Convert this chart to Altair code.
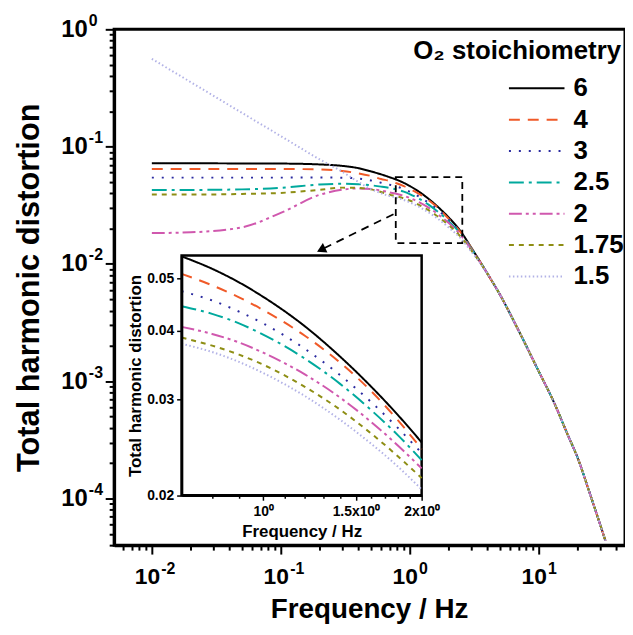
import json
import altair as alt
import pandas as pd

FONT = "Liberation Sans"

# ---------------- data ----------------
series = ["6", "4", "3", "2.5", "2", "1.75", "1.5"]
colors = ["#000000", "#F05A28", "#2B2BA0", "#00A99D", "#D058AE", "#8E8E14", "#B2B2E6"]
dashes = [[1, 0], [11, 8], [2, 8], [15, 5, 3, 5], [13, 4, 3, 4, 3, 4], [5, 5], [1.5, 2.5]]

freq = [0.01, 0.02, 0.05, 0.1, 0.2, 0.3, 0.4, 0.5, 0.6, 0.7, 0.8, 0.9, 1.0, 1.2, 1.4,
        1.6, 1.8, 2.0, 2.5, 3.0, 4.0, 5.0, 7.0, 10.0, 13.0, 17.0, 20.0, 25.0, 33.0]

thd_6 = [0.072, 0.072, 0.0719, 0.0717, 0.0705, 0.0685, 0.0655, 0.0615, 0.058, 0.0548, 0.0520,
         0.0491, 0.0462, 0.0408, 0.0359, 0.0317, 0.0281, 0.0250, 0.0188, 0.0138,
         0.0083, 0.0055, 0.0027, 0.00122, 0.00068, 0.00034, 0.000225, 0.00011, 0.0000436]
thd_4 = [0.0645, 0.0645, 0.0645, 0.0645, 0.0638, 0.062, 0.0592, 0.0562, 0.053, 0.0509, 0.0485,
         0.0461, 0.0437, 0.0392, 0.0350, 0.0311, 0.0275, 0.0243, 0.0185, 0.0137,
         0.0083, 0.0055, 0.0027, 0.00122, 0.00068, 0.00034, 0.000225, 0.00011, 0.0000436]
thd_3 = [0.0544, 0.0544, 0.0544, 0.0544, 0.0545, 0.0543, 0.0535, 0.0515, 0.0492, 0.0473, 0.0455,
         0.0434, 0.0413, 0.0371, 0.0332, 0.0297, 0.0266, 0.0239, 0.0182, 0.0136,
         0.0083, 0.0055, 0.0027, 0.00122, 0.00068, 0.00034, 0.000225, 0.00011, 0.0000436]
thd_25 = [0.0426, 0.0427, 0.0432, 0.0445, 0.0475, 0.0482, 0.0478, 0.0468, 0.0456, 0.0444, 0.0430,
          0.0413, 0.0394, 0.0356, 0.0320, 0.0287, 0.0258, 0.0232, 0.0179, 0.0135,
          0.0083, 0.0055, 0.0027, 0.00122, 0.00068, 0.00034, 0.000225, 0.00011, 0.0000436]
thd_2 = [0.0183, 0.0186, 0.0205, 0.0272, 0.0388, 0.043, 0.044, 0.0436, 0.0422, 0.0407, 0.0395,
         0.0381, 0.0365, 0.0333, 0.0302, 0.0273, 0.0247, 0.0224, 0.0175, 0.0133,
         0.0083, 0.0055, 0.0027, 0.00122, 0.00068, 0.00034, 0.000225, 0.00011, 0.0000436]
thd_175 = [0.039, 0.039, 0.0395, 0.0403, 0.0428, 0.0447, 0.0445, 0.0432, 0.041, 0.0389, 0.0376,
           0.0362, 0.0347, 0.0316, 0.0287, 0.0260, 0.0236, 0.0215, 0.0169, 0.0131,
           0.0083, 0.0055, 0.0027, 0.00122, 0.00068, 0.00034, 0.000225, 0.00011, 0.0000436]
thd_15 = [0.56, 0.355, 0.194, 0.123, 0.078, 0.061, 0.05, 0.0435, 0.04, 0.0379, 0.0366,
          0.0351, 0.0335, 0.0304, 0.0275, 0.0249, 0.0226, 0.0205, 0.0164, 0.0128,
          0.0083, 0.0055, 0.0027, 0.00122, 0.00068, 0.00034, 0.000225, 0.00011, 0.0000436]

all_thd = [thd_6, thd_4, thd_3, thd_25, thd_2, thd_175, thd_15]

# axis ticks and labels
x_major = [0.01, 0.1, 1, 10]
x_exponents = ["-2", "-1", "0", "1"]
y_major = [0.0001, 0.001, 0.01, 0.1, 1]
y_exponents = ["-4", "-3", "-2", "-1", "0"]
x_minor = [m * d for d in [0.001, 0.01, 0.1, 1, 10] for m in range(2, 10) if 0.0051 < m * d < 46.8]
y_minor = [m * d for d in [0.00001, 0.0001, 0.001, 0.01, 0.1] for m in range(2, 10) if 4e-5 <= m * d < 1]

inset_x_ticks = [0.8, 0.9, 1.0, 1.1, 1.2, 1.3, 1.4, 1.5, 1.6, 1.7, 1.8, 1.9, 2.0]
inset_x_major = [1.0, 1.5, 2.0]
inset_x_labels = ["10⁰", "1.5x10⁰", "2x10⁰"]
inset_y_ticks = [0.02, 0.03, 0.04, 0.05]

# annotation (zoom box and arrow), in data units
box_f = [0.78, 2.56]
box_v = [0.01503, 0.0549]
arrow_f = [0.749, 0.2056]
arrow_v = [0.02654, 0.01321]

# ---------------- tables ----------------
rows = []
for name, vals in zip(series, all_thd):
    for f, v in zip(freq, vals):
        rows.append({"series": name, "freq": f, "thd": v})
df = pd.DataFrame(rows)
df_inset = df[(df.freq >= 0.7) & (df.freq <= 2.0)]

box_df = pd.DataFrame({"f1": [box_f[0]], "f2": [box_f[1]], "v1": [box_v[0]], "v2": [box_v[1]]})
arrow_df = pd.DataFrame({"f1": [arrow_f[0]], "f2": [arrow_f[1]], "v1": [arrow_v[0]], "v2": [arrow_v[1]]})
head_df = pd.DataFrame({"f": [arrow_f[1]], "v": [arrow_v[1]]})
inset_box_df = pd.DataFrame({"f1": [0.7], "f2": [2.0], "v1": [0.02], "v2": [0.055]})


def label_expr(vals, labels):
    expr = "''"
    for v, l in reversed(list(zip(vals, labels))):
        expr = f"datum.value == {v} ? '{l}' : ({expr})"
    return expr


def major_test(vals):
    return f"indexof({json.dumps(vals)}, datum.value) >= 0"


main_x = alt.Scale(type="log", domain=[0.0051, 46.8], nice=False)
main_y = alt.Scale(type="log", domain=[4e-5, 1], nice=False)
inset_x = alt.Scale(type="log", domain=[0.7, 2.0], range=[68, 310], nice=False)
inset_y = alt.Scale(type="log", domain=[0.02, 0.055], range=[469.7, 228], nice=False)

color_scale = alt.Scale(domain=series, range=colors)
dash_scale = alt.Scale(domain=series, range=dashes)

legend = alt.Legend(orient="none", legendX=397, legendY=46, title=None,
                    symbolType="stroke", symbolSize=3136, symbolStrokeWidth=2,
                    clipHeight=27, rowPadding=4.6, padding=0,
                    labelFont=FONT, labelFontSize=26, labelFontWeight="bold",
                    labelColor="black", labelOffset=8, labelLimit=200)

common_axis = dict(labelFont=FONT, labelFontWeight="bold", labelColor="black",
                   titleFont=FONT, titleFontWeight="bold", titleColor="black",
                   tickColor="black", domainColor="black", grid=False,
                   labelOverlap=False, labelFlush=False)

# base "10" labels + ticks
x_axis = alt.Axis(orient="bottom", values=x_major + x_minor,
                  labelExpr=f"{major_test(x_major)} ? '10' : ''",
                  tickSize={"condition": {"test": major_test(x_major), "value": 9}, "value": 5},
                  tickWidth=2, domainWidth=3, labelFontSize=23, labelPadding=12,
                  labelAlign="center", labelOffset=-5, labelBaseline="top",
                  title="Frequency / Hz", titleFontSize=28, titleX=257, titleY=73,
                  titleBaseline="alphabetic", titleAlign="center", **common_axis)
y_axis = alt.Axis(orient="left", values=y_major + y_minor,
                  labelExpr=f"{major_test(y_major)} ? '10' : ''",
                  tickSize={"condition": {"test": major_test(y_major), "value": 9}, "value": 5},
                  tickWidth=2, domainWidth=3, labelFontSize=24, labelPadding=18,
                  labelAlign="right", labelBaseline="middle",
                  title="Total harmonic distortion", titleFontSize=31, titleX=-85, titleY=260,
                  titleAngle=270, titleBaseline="middle", titleAlign="center", **common_axis)

# superscript exponents as a second label row
x_exp_axis = alt.Axis(orient="bottom", values=x_major, labelExpr=label_expr(x_major, x_exponents),
                      ticks=False, tickSize=0, domain=False, labelFontSize=16, labelPadding=16,
                      labelAlign="left", labelOffset=9, labelBaseline="top", title=None,
                      **common_axis)
y_exp_axis = alt.Axis(orient="left", values=y_major, labelExpr=label_expr(y_major, y_exponents),
                      ticks=False, tickSize=0, domain=False, labelFontSize=16, labelPadding=26,
                      labelAlign="left", labelOffset=-9, labelBaseline="middle", title=None,
                      **common_axis)

inset_x_axis = alt.Axis(orient="bottom", offset=-50.3, values=inset_x_ticks,
                        labelExpr=label_expr(inset_x_major, inset_x_labels),
                        tickSize={"condition": {"test": major_test(inset_x_major), "value": 5}, "value": 3},
                        tickWidth=1.5, domainWidth=2.5, labelFontSize=14, labelPadding=4,
                        title="Frequency / Hz", titleFontSize=17, titleX=189, titleY=37,
                        titleBaseline="middle", titleAlign="center", zindex=1, **common_axis)
inset_y_axis = alt.Axis(orient="left", offset=-68, values=inset_y_ticks, format=".2f",
                        tickSize=5, tickWidth=1.5, domainWidth=2.5, labelFontSize=14, labelPadding=3,
                        title="Total harmonic distortion", titleFontSize=17, titleX=-46, titleY=349,
                        titleAngle=270, titleBaseline="middle", titleAlign="center", zindex=1,
                        **common_axis)

color_enc = alt.Color("series:N", scale=color_scale, legend=legend)
dash_enc = alt.StrokeDash("series:N", scale=dash_scale, legend=legend)

main_lines = alt.Chart(df).mark_line(strokeWidth=2, clip=True, interpolate="monotone").encode(
    x=alt.X("freq:Q", scale=main_x, axis=x_axis),
    y=alt.Y("thd:Q", scale=main_y, axis=y_axis),
    color=color_enc, strokeDash=dash_enc,
    order=alt.Order("freq:Q"),
)

exponent_labels = alt.Chart(head_df).mark_point(opacity=0).encode(
    x=alt.X("f:Q", scale=main_x, axis=x_exp_axis),
    y=alt.Y("v:Q", scale=main_y, axis=y_exp_axis),
)

box = alt.Chart(box_df).mark_rect(fill="transparent", stroke="black", strokeWidth=1.8,
                                  strokeDash=[7, 5]).encode(
    x=alt.X("f1:Q", scale=main_x, axis=None), x2="f2:Q",
    y=alt.Y("v1:Q", scale=main_y, axis=None), y2="v2:Q",
)

arrow = alt.Chart(arrow_df).mark_rule(color="black", strokeWidth=1.8, strokeDash=[8, 6]).encode(
    x=alt.X("f1:Q", scale=main_x, axis=None), x2="f2:Q",
    y=alt.Y("v1:Q", scale=main_y, axis=None), y2="v2:Q",
)

head = alt.Chart(head_df).mark_point(shape="triangle-up", filled=True, size=110, angle=244,
                                     color="black", opacity=1).encode(
    x=alt.X("f:Q", scale=main_x, axis=None),
    y=alt.Y("v:Q", scale=main_y, axis=None),
)

inset_box = alt.Chart(inset_box_df).mark_rect(fill="white", stroke="black", strokeWidth=2.5).encode(
    x=alt.X("f1:Q", scale=inset_x, axis=inset_x_axis), x2="f2:Q",
    y=alt.Y("v1:Q", scale=inset_y, axis=inset_y_axis), y2="v2:Q",
)

inset_lines = alt.Chart(df_inset).mark_line(strokeWidth=2, interpolate="monotone").encode(
    x=alt.X("freq:Q", scale=inset_x, axis=None),
    y=alt.Y("thd:Q", scale=inset_y, axis=None),
    color=color_enc, strokeDash=dash_enc,
    order=alt.Order("freq:Q"),
)

chart = alt.layer(main_lines, exponent_labels, box, arrow, head, inset_box, inset_lines).resolve_scale(
    x="independent", y="independent"
).properties(
    width=515, height=520,
    padding={"left": 107, "top": 19, "right": 0, "bottom": 78},
    autosize=alt.AutoSizeParams(type="none"),
    background="white",
    title=alt.TitleParams("O₂ stoichiometry", anchor="end", frame="group", orient="top",
                          offset=0, dx=-4, dy=52, font=FONT, fontSize=26,
                          fontWeight="bold", color="black"),
).configure_view(stroke="black", strokeWidth=3)

chart.save("out.html", embed_options={"renderer": "svg", "actions": False})
